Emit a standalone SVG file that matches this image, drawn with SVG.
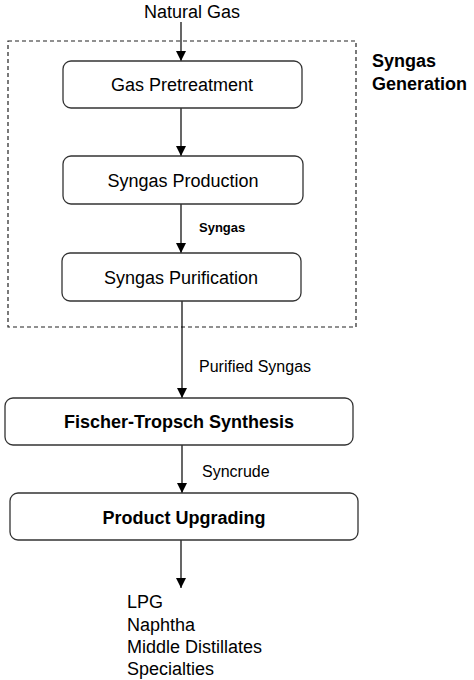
<svg xmlns="http://www.w3.org/2000/svg" width="474" height="680" viewBox="0 0 474 680">
<defs>
<style>
.box{fill:#fff;stroke:#333;stroke-width:1.3}
.t{font-family:"Liberation Sans",Arial,sans-serif;font-size:18px;fill:#000}
.b{font-weight:bold;font-size:18px}
.c{text-anchor:middle}
.lbl{font-family:"Liberation Sans",Arial,sans-serif;font-size:16px;fill:#000}
.ln{stroke:#000;stroke-width:1.2;fill:none;marker-end:url(#ah)}
</style>
<marker id="ah" markerWidth="10" markerHeight="10" refX="10" refY="5" orient="auto" markerUnits="userSpaceOnUse">
<path d="M0,0 L10,5 L0,10 Z" fill="#000"/>
</marker>
</defs>
<rect width="474" height="680" fill="#fff"/>
<g id="group-syngas-generation">
<rect x="8" y="41" width="348" height="286" fill="none" stroke="#222" stroke-width="1.2" stroke-dasharray="4,3"/>
<text class="t b" x="372" y="67">Syngas</text>
<text class="t b" x="372" y="90">Generation</text>
</g>
<g id="connectors">
<line class="ln" x1="181" y1="22" x2="181" y2="61"/>
<line class="ln" x1="181" y1="108" x2="181" y2="156"/>
<line class="ln" x1="181" y1="204" x2="181" y2="253"/>
<line class="ln" x1="182" y1="301" x2="182" y2="398"/>
<line class="ln" x1="182" y1="445" x2="182" y2="493"/>
<line class="ln" x1="181" y1="540" x2="181" y2="588"/>
<text class="lbl" x="199" y="232" style="font-weight:bold;font-size:13px">Syngas</text>
<text class="lbl" x="199" y="372">Purified Syngas</text>
<text class="lbl" x="202" y="477">Syncrude</text>
</g>
<g id="natural-gas"><text class="t c" x="192" y="18">Natural Gas</text></g>
<g id="gas-pretreatment">
<rect class="box" x="63" y="61" width="239" height="47" rx="8"/>
<text class="t c" x="182" y="91">Gas Pretreatment</text>
</g>
<g id="syngas-production">
<rect class="box" x="63" y="156" width="240" height="48" rx="8"/>
<text class="t c" x="183" y="187">Syngas Production</text>
</g>
<g id="syngas-purification">
<rect class="box" x="62" y="253" width="239" height="48" rx="8"/>
<text class="t c" x="181" y="284">Syngas Purification</text>
</g>
<g id="fischer-tropsch">
<rect class="box" x="5" y="398" width="348" height="47" rx="8"/>
<text class="t b c" x="179" y="428">Fischer-Tropsch Synthesis</text>
</g>
<g id="product-upgrading">
<rect class="box" x="10" y="493" width="348" height="47" rx="8"/>
<text class="t b c" x="184" y="524">Product Upgrading</text>
</g>
<g id="products">
<text class="t" x="127" y="608">LPG</text>
<text class="t" x="127" y="631">Naphtha</text>
<text class="t" x="127" y="653">Middle Distillates</text>
<text class="t" x="127" y="675">Specialties</text>
</g>
</svg>
